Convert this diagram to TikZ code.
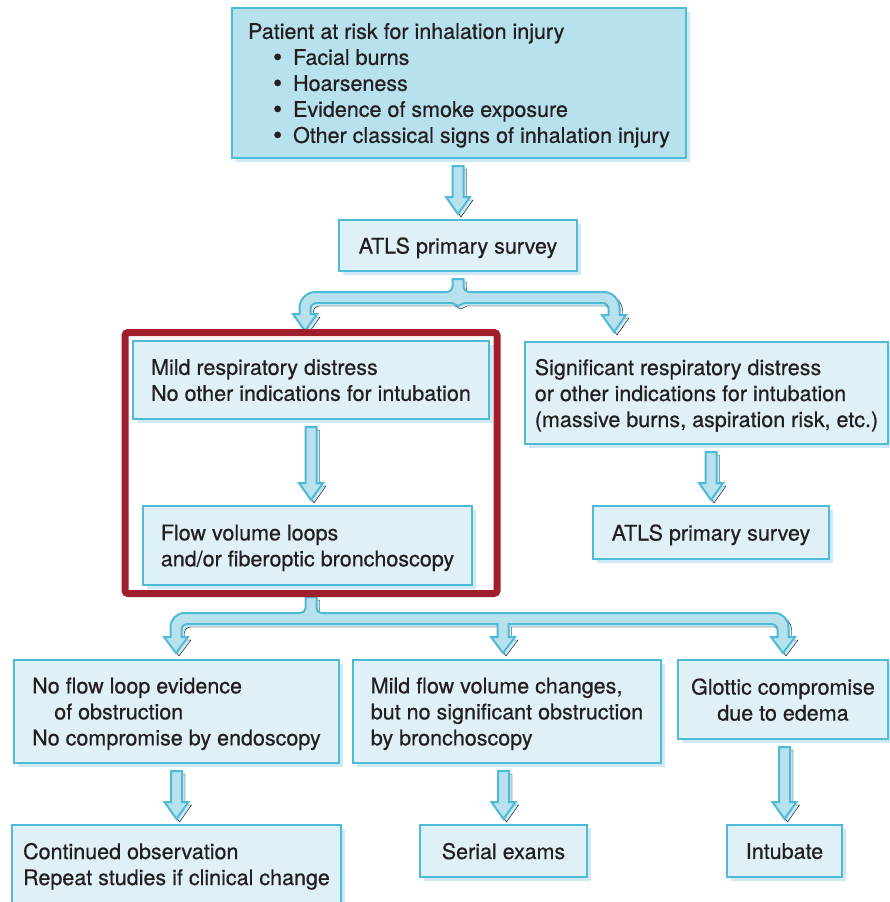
\documentclass[tikz,border=0pt]{standalone}
\usepackage{fontspec}
\setmainfont[FakeBold=0.6]{TeX Gyre Heros}
\usetikzlibrary{calc,fit,shadows}

\definecolor{boxline}{RGB}{77,186,214}
\definecolor{boxfill}{RGB}{223,241,247}
\definecolor{topfill}{RGB}{184,225,238}
\definecolor{arrowfill}{RGB}{185,225,237}
\definecolor{shadowblue}{RGB}{206,233,243}
\definecolor{framered}{RGB}{161,30,45}
\definecolor{inktext}{RGB}{35,31,32}

\tikzset{
  flowbox/.style={draw=boxline, fill=boxfill, line width=2.5pt, anchor=north west,
    inner sep=0pt, outer sep=0pt, align=left, text=inktext, text depth=0pt,
    font=\fontsize{21.5}{26}\selectfont,
    drop shadow={shadow xshift=4pt, shadow yshift=-4pt, fill=shadowblue, draw=none, opacity=1}},
  arrowbody/.style={draw=boxline, fill=arrowfill, line width=2pt, line join=miter},
  arrowshadow/.style={fill=shadowblue, transform canvas={shift={(3pt,-3pt)}}},
  focusframe/.style={draw=framered, line width=7pt, rounded corners=3pt,
    inner xsep=8pt, inner ysep=8.5pt}
}

\newcommand{\riskbullet}{\hspace*{25pt}\makebox[20pt][l]{\smash{\raisebox{-1pt}{\fontsize{26}{26}\selectfont\textbullet}}}}

\newcommand{\blockdown}[2]{%
  \foreach \layer in {arrowshadow,arrowbody}{%
    \draw[\layer] let \p1=(#1), \p2=(#2) in
      (\x2-5.5pt,\y1-8pt) -- (\x2+5.5pt,\y1-8pt) -- (\x2+5.5pt,\y2+23pt)
      -- (\x2+12pt,\y2+23pt) -- (\x2,\y2+6pt) -- (\x2-12pt,\y2+23pt)
      -- (\x2-5.5pt,\y2+23pt) -- cycle;}}

\begin{document}
\begin{tikzpicture}[x=1pt,y=1pt]

	\useasboundingbox (0,0) rectangle (890,-902);

	\node[flowbox, fill=topfill, minimum width=454pt, minimum height=150pt] (risk) at (232,-8)
		{Patient at risk for inhalation injury\\
		 \riskbullet Facial burns\\
		 \riskbullet Hoarseness\\
		 \riskbullet Evidence of smoke exposure\\
		 \riskbullet Other classical signs of inhalation injury};
	\node[flowbox, align=center, minimum width=238pt, minimum height=51pt] (atlsA) at (339,-220)
		{ATLS primary survey};

	\node[flowbox, minimum width=356pt, minimum height=78pt] (mild) at (133,-341)
		{Mild respiratory distress\\No other indications for intubation};
	\node[flowbox, minimum width=329pt, minimum height=79pt] (flow) at (143,-506)
		{Flow volume loops\\and/or fiberoptic bronchoscopy};

	\node[flowbox, minimum width=363pt, minimum height=102pt] (signif) at (525,-342)
		{Significant respiratory distress\\or other indications for intubation\\(massive burns, aspiration risk, etc.)};
	\node[flowbox, align=center, minimum width=236pt, minimum height=53pt] (atlsB) at (593,-506)
		{ATLS primary survey};

	\node[flowbox, minimum width=325pt, minimum height=103pt] (noflow) at (14,-660)
		{No flow loop evidence\\\hspace*{22pt}of obstruction\\No compromise by endoscopy};
	\node[flowbox, minimum width=308pt, minimum height=103pt] (mildflow) at (353,-660)
		{Mild flow volume changes,\\but no significant obstruction\\by bronchoscopy};
	\node[flowbox, align=center, minimum width=210pt, minimum height=79pt] (glottic) at (678,-660)
		{Glottic compromise\\due to edema};

	\node[flowbox, minimum width=329pt, minimum height=78pt] (observe) at (12,-825)
		{Continued observation\\Repeat studies if clinical change};
	\node[flowbox, align=center, minimum width=167pt, minimum height=52pt] (serial) at (420,-825)
		{Serial exams};
	\node[flowbox, align=center, minimum width=115pt, minimum height=52pt] (intubate) at (727,-825)
		{Intubate};

	\blockdown{risk.south}{atlsA.north}
	\blockdown{mild.south}{flow.north -| mild.south}
	\blockdown{signif.south}{atlsB.north}
	\blockdown{noflow.south}{observe.north}
	\blockdown{mildflow.south}{serial.north}
	\blockdown{glottic.south}{intubate.north}

	\foreach \layer in {arrowshadow,arrowbody}
		\draw[\layer] (atlsA.south) ++(-5.5,-8) -- ++(0,-7)
			arc[start angle=0, end angle=-90, radius=6] -- ++(-131,0)
			arc[start angle=90, end angle=180, radius=16] -- ++(0,-6)
			-- ++(-6.5,0) -- ++(12,-17) -- ++(12,17) -- ++(-6.5,0) -- ++(0,5)
			arc[start angle=180, end angle=90, radius=6] -- ++(135.5,0)
			-- ++(6,-3) -- ++(6,3) -- ++(138.5,0)
			arc[start angle=90, end angle=0, radius=6] -- ++(0,-6)
			-- ++(-6.5,0) -- ++(12,-17) -- ++(12,17) -- ++(-6.5,0) -- ++(0,7)
			arc[start angle=0, end angle=90, radius=16] -- ++(-134,0)
			arc[start angle=270, end angle=180, radius=6] -- ++(0,7) -- cycle;

	\foreach \layer in {arrowshadow,arrowbody}
		\draw[\layer] (flow.south) ++(-2,-12) -- ++(0,-11)
			arc[start angle=0, end angle=-90, radius=5] -- ++(-116,0)
			arc[start angle=90, end angle=180, radius=14] -- ++(0,-10)
			-- ++(-6.5,0) -- ++(12,-16) -- ++(12,16) -- ++(-6.5,0) -- ++(0,7)
			arc[start angle=180, end angle=90, radius=6] -- ++(310,0)
			-- ++(0,-13) -- ++(-6.5,0) -- ++(12,-16) -- ++(12,16) -- ++(-6.5,0) -- ++(0,13)
			-- ++(263,0)
			arc[start angle=90, end angle=0, radius=6] -- ++(0,-7)
			-- ++(-6.5,0) -- ++(12,-16) -- ++(12,16) -- ++(-6.5,0) -- ++(0,10)
			arc[start angle=0, end angle=90, radius=14] -- ++(-453,0)
			arc[start angle=270, end angle=180, radius=5] -- ++(0,11) -- cycle;

	\node[focusframe, fit=(mild)(flow)] (focus) {};

\end{tikzpicture}
\end{document}
